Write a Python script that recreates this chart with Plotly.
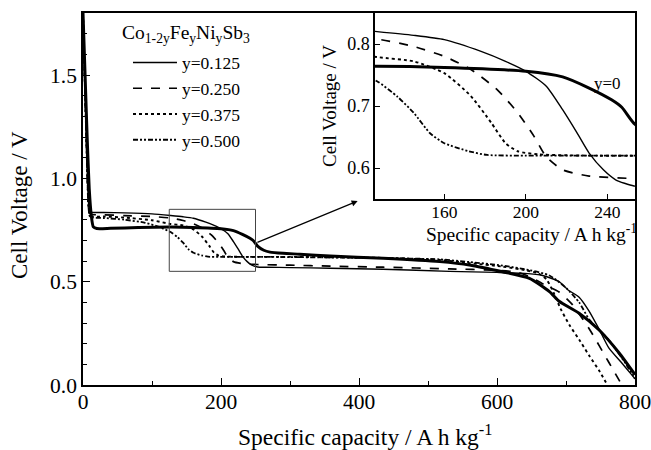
import plotly.graph_objects as go

# ---------------- data ----------------
y0_x = [0, 3, 6, 9, 12, 15, 20, 40, 80, 127, 160, 200, 218, 231, 242, 247, 253, 262, 271, 290, 314, 358, 435, 517, 560, 608, 647, 676, 690, 719, 748, 777, 800]
y0_v = [1.80, 1.50, 1.20, 0.95, 0.82, 0.765, 0.757, 0.758, 0.762, 0.764, 0.762, 0.756, 0.747, 0.729, 0.710, 0.698, 0.672, 0.652, 0.643, 0.637, 0.633, 0.624, 0.613, 0.597, 0.581, 0.548, 0.516, 0.452, 0.405, 0.347, 0.266, 0.155, 0.05]

y125_x = [0, 2, 4, 6, 8, 10, 14, 30, 60, 100, 127, 145, 160, 178, 190, 200, 210, 218, 225, 231, 238, 244, 253, 265, 300, 358, 435, 531, 600, 640, 666, 690, 703, 719, 733, 748, 762, 780, 795, 800]
y125_v = [1.80, 1.55, 1.30, 1.05, 0.88, 0.84, 0.835, 0.835, 0.833, 0.828, 0.820, 0.814, 0.807, 0.788, 0.772, 0.756, 0.732, 0.694, 0.657, 0.624, 0.597, 0.581, 0.571, 0.570, 0.568, 0.565, 0.560, 0.550, 0.545, 0.540, 0.530, 0.500, 0.460, 0.425, 0.360, 0.270, 0.180, 0.110, 0.050, 0.030]

y250_x = [0, 2, 4, 6, 8, 10, 14, 30, 60, 100, 127, 145, 160, 173, 186, 196, 204, 210, 218, 231, 253, 300, 358, 435, 531, 600, 630, 650, 666, 690, 709, 734, 762, 781]
y250_v = [1.80, 1.55, 1.30, 1.05, 0.87, 0.83, 0.825, 0.823, 0.820, 0.815, 0.808, 0.796, 0.780, 0.759, 0.726, 0.689, 0.651, 0.618, 0.597, 0.587, 0.583, 0.580, 0.575, 0.570, 0.562, 0.555, 0.545, 0.520, 0.490, 0.450, 0.390, 0.270, 0.110, 0.0]

y375_x = [0, 2, 4, 6, 8, 10, 14, 30, 60, 100, 127, 145, 160, 173, 183, 190, 196, 206, 230, 300, 358, 435, 517, 560, 608, 640, 660, 672, 683, 692, 705, 719, 734, 748, 760]
y375_v = [1.80, 1.55, 1.30, 1.05, 0.86, 0.82, 0.815, 0.815, 0.810, 0.797, 0.779, 0.772, 0.753, 0.716, 0.673, 0.640, 0.627, 0.622, 0.620, 0.620, 0.618, 0.615, 0.605, 0.590, 0.573, 0.556, 0.540, 0.510, 0.440, 0.370, 0.290, 0.220, 0.140, 0.070, 0.0]

y500_x = [0, 2, 4, 6, 8, 10, 14, 30, 60, 90, 110, 127, 137, 145, 153, 160, 172, 181, 200, 253, 300, 358, 435, 517, 560, 608, 647, 676, 700, 719, 734, 762, 786, 800]
y500_v = [1.80, 1.55, 1.30, 1.05, 0.86, 0.815, 0.810, 0.808, 0.800, 0.785, 0.765, 0.740, 0.715, 0.689, 0.656, 0.640, 0.627, 0.621, 0.620, 0.620, 0.619, 0.617, 0.614, 0.608, 0.595, 0.578, 0.556, 0.530, 0.470, 0.400, 0.315, 0.218, 0.106, 0.030]

series_names = ["y=0", "y=0.125", "y=0.250", "y=0.375", "y=0.500"]
series_x = [y0_x, y125_x, y250_x, y375_x, y500_x]
series_y = [y0_v, y125_v, y250_v, y375_v, y500_v]
series_dash = ["solid", "solid", "dash", "dot", "5px,2px,2px,2px,2px,2px"]
series_width = [3, 1.4, 1.7, 1.9, 1.8]
series_legend = [False, True, True, True, True]

main_xticks = [0, 200, 400, 600, 800]
main_yticks = [0.0, 0.5, 1.0, 1.5]
inset_xticks = [160, 200, 240]
inset_yticks = [0.6, 0.7, 0.8]

FONT = "Liberation Serif"

fig = go.Figure()
for name, xs, ys, dash, w, sl in zip(series_names, series_x, series_y, series_dash, series_width, series_legend):
    fig.add_trace(go.Scatter(x=xs, y=ys, mode="lines", name=name, showlegend=sl,
                             line=dict(color="black", dash=dash, width=w, shape="spline", smoothing=0.6),
                             xaxis="x", yaxis="y"))
for name, xs, ys, dash, w in zip(series_names, series_x, series_y, series_dash, series_width):
    fig.add_trace(go.Scatter(x=xs, y=ys, mode="lines", name=name, showlegend=False,
                             line=dict(color="black", dash=dash, width=w, shape="spline", smoothing=0.6),
                             xaxis="x2", yaxis="y2"))

axis_common = dict(showline=True, mirror=True, linecolor="black", linewidth=1.5, automargin=False,
                   ticks="inside", tickcolor="black", showgrid=False, zeroline=False,
                   ticklabeloverflow="allow")

fig.update_layout(
    width=651, height=450,
    margin=dict(l=83, r=16, t=13, b=65),
    paper_bgcolor="white", plot_bgcolor="white",
    font=dict(family=FONT, color="black", size=20),
    xaxis=dict(domain=[0, 1], range=[0, 800], tickvals=main_xticks, ticklen=7, tickwidth=1.2,
               minor=dict(dtick=100, tick0=0, ticks="inside", ticklen=4, tickcolor="black"),
               tickfont=dict(size=21.5), ticklabelstandoff=-4,
               **axis_common),
    yaxis=dict(domain=[0, 1], range=[0, 1.8], tickvals=main_yticks, tickformat=".1f", ticklen=7, tickwidth=1.2,
               minor=dict(dtick=0.1, tick0=0, ticks="inside", ticklen=4, tickcolor="black"),
               tickfont=dict(size=21.5),
               **axis_common),
    xaxis2=dict(domain=[0.529, 1], anchor="y2", range=[126, 253.5], tickvals=inset_xticks, ticklen=5,
                tickfont=dict(size=17.5), ticklabelstandoff=-4, **axis_common),
    yaxis2=dict(domain=[0.5, 1], anchor="x2", range=[0.55, 0.85], tickvals=inset_yticks, tickformat=".1f",
                ticklen=5, tickfont=dict(size=18),
                title=dict(text="Cell Voltage / V", font=dict(size=19), standoff=6),
                **axis_common),
    legend=dict(x=0.0815, y=0.915, xanchor="left", yanchor="top", bgcolor="rgba(0,0,0,0)",
                font=dict(size=17.5), itemwidth=44, tracegroupgap=0),
    shapes=[dict(type="rect", xref="x", yref="y", x0=125, x1=250, y0=0.55, y1=0.85,
                 line=dict(color="#444", width=1))],
    annotations=[
        dict(x=398, y=0.89, xref="x", yref="y", ax=250.6, ay=0.687, axref="x", ayref="y",
             showarrow=True, arrowhead=2, arrowsize=1, arrowwidth=1.2, arrowcolor="black", text=""),
        dict(x=240, y=0.737, xref="x2", yref="y2", text="y=0", showarrow=False,
             font=dict(size=17)),
        dict(x=0.8116, y=0.409, xref="paper", yref="paper", text="Specific capacity / A h kg<sup>-1</sup>",
             showarrow=False, font=dict(size=19.5), xanchor="center", yanchor="middle"),
        dict(x=0.512, y=-0.135, xref="paper", yref="paper", text="Specific capacity / A h kg<sup>-1</sup>",
             showarrow=False, font=dict(size=23.5), xanchor="center", yanchor="middle"),
        dict(x=-0.114, y=0.484, xref="paper", yref="paper", text="Cell Voltage / V", textangle=-90,
             showarrow=False, font=dict(size=23), xanchor="center", yanchor="middle"),
        dict(x=0.067, y=0.943, xref="paper", yref="paper",
             text="Co<sub>1-2y</sub>Fe<sub>y</sub>Ni<sub>y</sub>Sb<sub>3</sub>",
             showarrow=False, font=dict(size=19.5), xanchor="left", yanchor="middle"),
    ],
)

fig.write_html("out.html", config={"displayModeBar": False},
               post_script="document.body.style.margin='0';document.body.style.padding='0';")
